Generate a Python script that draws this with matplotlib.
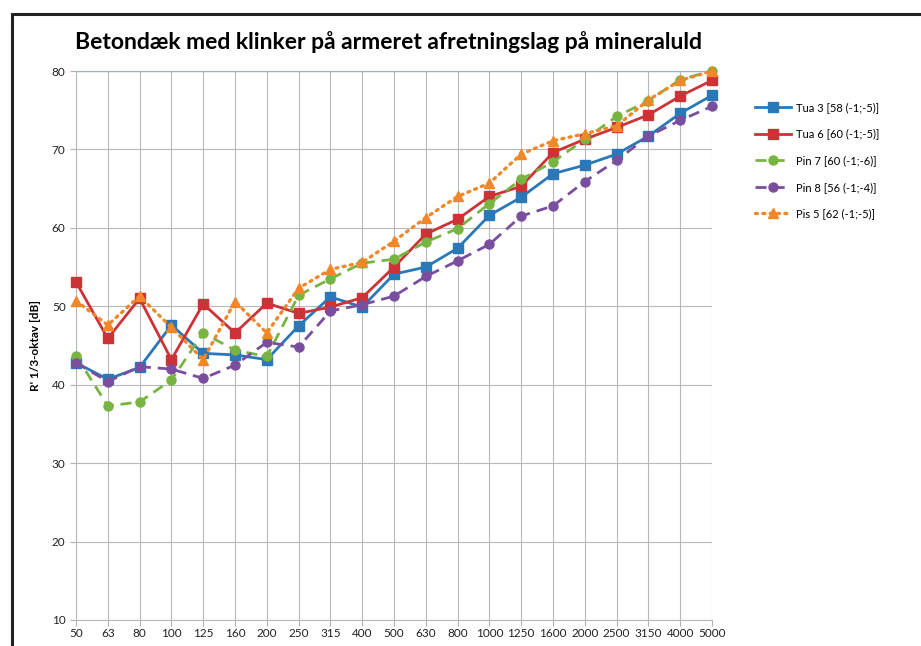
import numpy as np
import matplotlib
matplotlib.use("Agg")
import matplotlib.pyplot as plt
from matplotlib.patches import Rectangle

plt.rcParams['font.family'] = ['Lato', 'DejaVu Sans']

freqs = ['50', '63', '80', '100', '125', '160', '200', '250', '315', '400', '500',
         '630', '800', '1000', '1250', '1600', '2000', '2500', '3150', '4000', '5000']

tua3 = [42.8, 40.7, 42.2, 47.6, 44.0, 43.8, 43.2, 47.5, 51.2, 49.9, 54.1,
        55.0, 57.4, 61.6, 63.9, 66.9, 68.0, 69.4, 71.7, 74.6, 76.9]
tua6 = [53.1, 45.9, 51.0, 43.2, 50.3, 46.6, 50.4, 49.1, 49.9, 51.1, 55.0,
        59.2, 61.1, 64.0, 65.3, 69.6, 71.3, 72.8, 74.4, 76.8, 78.8]
pin7 = [43.7, 37.3, 37.8, 40.6, 46.6, 44.4, 43.6, 51.4, 53.5, 55.5, 56.0,
        58.2, 59.9, 63.1, 66.2, 68.4, 71.3, 74.2, 76.2, 78.9, 80.0]
pin8 = [42.8, 40.4, 42.3, 42.0, 40.8, 42.5, 45.4, 44.8, 49.4, 50.2, 51.3,
        53.8, 55.8, 57.9, 61.5, 62.8, 65.9, 68.6, 71.7, 73.7, 75.5]
pis5 = [50.7, 47.6, 51.3, 47.3, 43.2, 50.6, 46.6, 52.3, 54.7, 55.6, 58.3,
        61.3, 64.0, 65.7, 69.4, 71.1, 72.0, 73.0, 76.3, 78.8, 80.0]

labels = ['Tua 3 [58 (-1;-5)]', 'Tua 6 [60 (-1;-5)]', 'Pin 7 [60 (-1;-6)]',
          'Pin 8 [56 (-1;-4)]', 'Pis 5 [62 (-1;-5)]']

x = np.arange(len(freqs))

fig = plt.figure(figsize=(9.21, 6.46), dpi=100)
ax = fig.add_axes([76/921, 1-620/646, (712-76)/921, (620-71)/646])

ax.plot(x, tua3, color='#2a78b8', lw=2.0, marker='s', ms=6.5, label=labels[0], clip_on=False, zorder=5)
ax.plot(x, tua6, color='#cc3236', lw=2.0, marker='s', ms=6.5, label=labels[1], clip_on=False, zorder=5)
ax.plot(x, pin7, color='#78b441', lw=2.0, ls=(0, (4, 2.5)), marker='o', ms=6.5, label=labels[2], clip_on=False, zorder=5)
ax.plot(x, pin8, color='#7a4e9e', lw=2.0, ls=(0, (4, 2.5)), marker='o', ms=6.5, label=labels[3], clip_on=False, zorder=5)
ax.plot(x, pis5, color='#f0882a', lw=2.4, ls=(0, (0.6, 1.6)), dash_capstyle='round', marker='^', ms=7.5, label=labels[4], clip_on=False, zorder=5)

ax.set_xlim(0, 20)
ax.set_ylim(10, 80)
ax.set_xticks(x)
ax.set_xticklabels(freqs)
ax.set_yticks(np.arange(10, 81, 10))
ax.tick_params(axis='both', labelsize=8.5, colors='#b0b0b0', length=4, width=0.8, labelcolor='#222222')
ax.tick_params(axis='x', pad=2)

ax.grid(True, color='#b8b8b8', lw=0.8)
ax.set_axisbelow(True)
for s in ['top', 'right']:
    ax.spines[s].set_visible(False)
ax.spines['left'].set_color('#b8b8b8')
ax.spines['bottom'].set_color('#b8b8b8')
ax.axhline(80, color='#8fb3d9', lw=1.0, zorder=1)

ax.set_ylabel("R' 1/3-oktav [dB]", fontsize=8.5, fontweight='bold', labelpad=8)

fig.text(388/921, 1-42/646, 'Betondæk med klinker på armeret afretningslag på mineraluld',
         ha='center', va='center', fontsize=16.5, fontweight='bold')

leg = ax.legend(loc='upper left', bbox_to_anchor=(745/921, 1-92/646), bbox_transform=fig.transFigure,
                frameon=False, fontsize=8, handlelength=3.2, labelspacing=1.4, handletextpad=0.5)

fig.add_artist(Rectangle((12/921, -0.2), 1.2, 1.2 - 14/646, fill=False, ec='#222222', lw=2.2,
                         transform=fig.transFigure))

fig.savefig('out.png', dpi=100)
